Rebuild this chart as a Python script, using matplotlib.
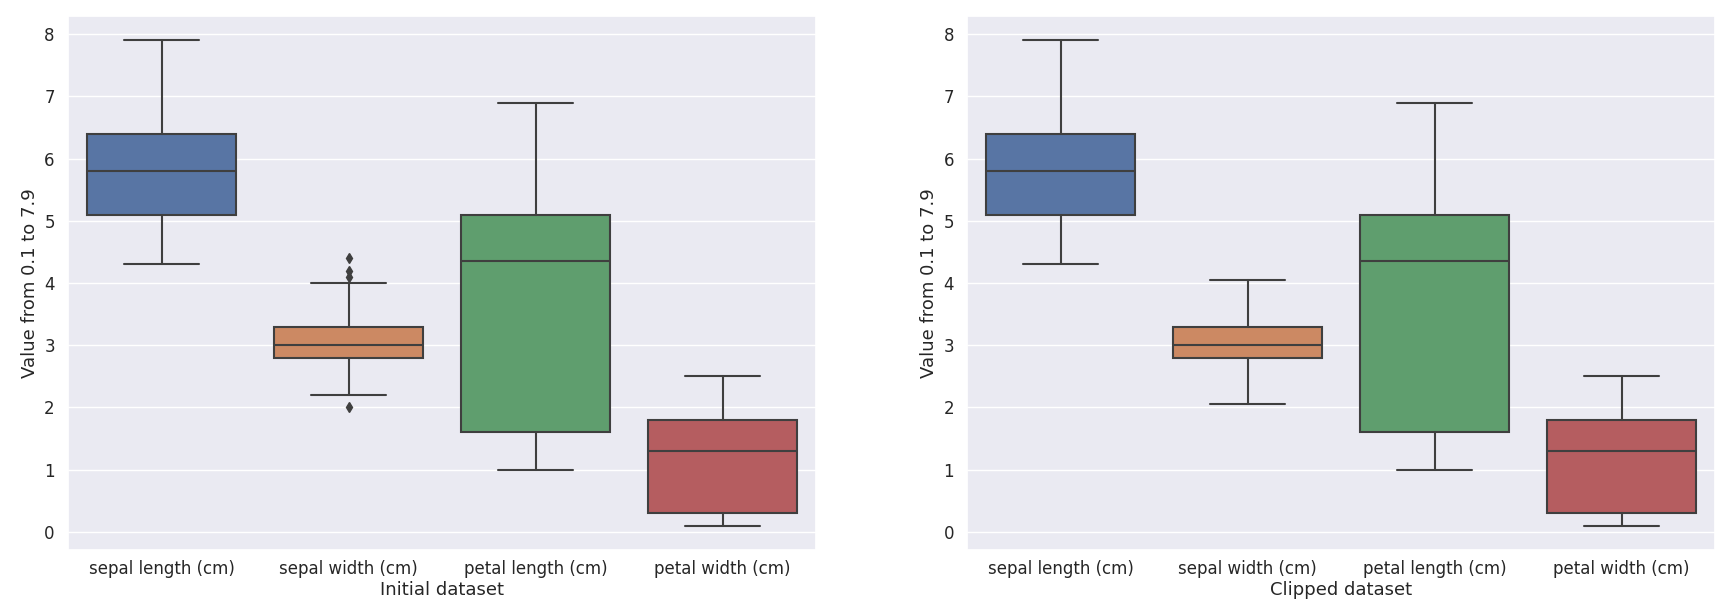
import numpy as np
import matplotlib
matplotlib.use("Agg")
import matplotlib.pyplot as plt
import seaborn as sns

sns.set_theme(style="darkgrid")

features = ["sepal length (cm)", "sepal width (cm)", "petal length (cm)", "petal width (cm)"]
colors = ["#5875a4", "#cc8963", "#5f9e6e", "#b55d60"]

# box stats
q1 = [5.1, 2.8, 1.6, 0.3]
med = [5.8, 3.0, 4.35, 1.3]
q3 = [6.4, 3.3, 5.1, 1.8]

init_lo = [4.3, 2.2, 1.0, 0.1]
init_hi = [7.9, 4.0, 6.9, 2.5]
init_fliers = [[], [4.4, 4.2, 4.1, 2.0], [], []]

clip_lo = [4.3, 2.05, 1.0, 0.1]
clip_hi = [7.9, 4.05, 6.9, 2.5]
clip_fliers = [[], [], [], []]


def draw(ax, lo, hi, fliers, title):
    stats = []
    for i in range(len(features)):
        stats.append(dict(q1=q1[i], med=med[i], q3=q3[i], whislo=lo[i], whishi=hi[i],
                          fliers=fliers[i], label=features[i]))
    lc = "#3f3f3f"
    bp = ax.bxp(stats, positions=range(4), widths=0.8, patch_artist=True,
                boxprops=dict(edgecolor=lc, linewidth=1.5),
                medianprops=dict(color=lc, linewidth=1.5),
                whiskerprops=dict(color=lc, linewidth=1.5),
                capprops=dict(color=lc, linewidth=1.5),
                flierprops=dict(marker="d", markerfacecolor=lc, markeredgecolor=lc,
                                markersize=5))
    for patch, c in zip(bp["boxes"], colors):
        patch.set_facecolor(c)
    ax.set_xlim(-0.5, 3.5)
    ax.set_ylim(-0.29, 8.29)
    ax.grid(False, axis="x")
    ax.set_xlabel(title, fontsize=13, labelpad=2.5)
    ax.set_ylabel("Value from 0.1 to 7.9", fontsize=13)
    ax.tick_params(labelsize=12)
    ax.tick_params(axis="x", pad=1)


fig, (ax1, ax2) = plt.subplots(1, 2, figsize=(17.31, 6.06), dpi=100)
draw(ax1, init_lo, init_hi, init_fliers, "Initial dataset")
draw(ax2, clip_lo, clip_hi, clip_fliers, "Clipped dataset")
plt.subplots_adjust(left=0.0393, right=0.9908, top=0.9736, bottom=0.0924, wspace=0.202)
plt.savefig("out.png", dpi=100)
